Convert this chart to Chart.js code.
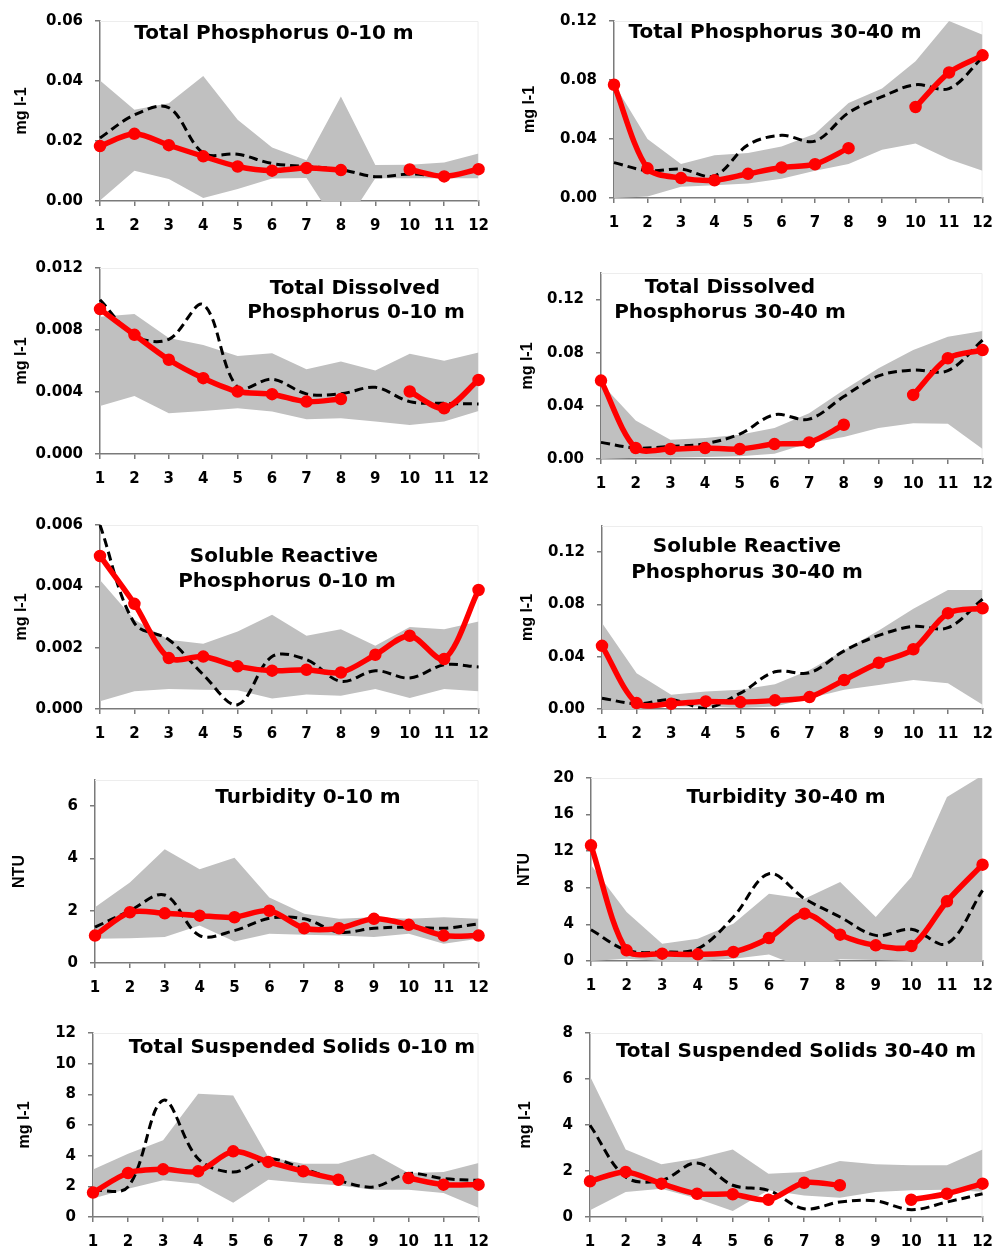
<!DOCTYPE html>
<html>
<head>
<meta charset="utf-8">
<script src="https://cdn.jsdelivr.net/npm/chart.js@4.4.1/dist/chart.umd.min.js"></script>
<style>
html,body{margin:0;padding:0;background:#fff;}
body{width:1004px;height:1252px;position:relative;overflow:hidden;}
canvas{position:absolute;display:block;}
</style>
</head>
<body>
<script>
// ---------- categories ----------
const months = ['1','2','3','4','5','6','7','8','9','10','11','12'];

// ---------- Total Phosphorus 0-10 m ----------
const tp010Title = ['Total Phosphorus 0-10 m'];
const tp010Ticks = [0, 0.02, 0.04, 0.06];
const tp010Red  = [0.0183,0.0224,0.0186,0.0149,0.0115,0.0101,0.0110,0.0103,null,0.0105,0.0082,0.0106];
const tp010Dash = [0.0210,0.0287,0.0311,0.0160,0.0156,0.0125,0.0115,0.0105,0.0081,0.0090,0.0085,0.0105];
const tp010Hi   = [0.0402,0.0304,0.0326,0.0417,0.0271,0.0178,0.0136,0.0348,0.0120,0.0121,0.0128,0.0158];
const tp010Lo   = [0.0002,0.0101,0.0073,0.0010,0.0040,0.0075,0.0077,-0.0100,0.0076,0.0076,0.0076,0.0076];

// ---------- Total Phosphorus 30-40 m ----------
const tp3040Title = ['Total Phosphorus 30-40 m'];
const tp3040Ticks = [0, 0.04, 0.08, 0.12];
const tp3040Red  = [0.0768,0.0201,0.0135,0.0120,0.0164,0.0207,0.0229,0.0338,null,0.0617,0.0851,0.0967];
const tp3040Dash = [0.0240,0.0185,0.0196,0.0150,0.0360,0.0425,0.0386,0.0578,0.0687,0.0768,0.0742,0.0953];
const tp3040Hi   = [0.0775,0.0400,0.0230,0.0290,0.0305,0.0350,0.0436,0.0644,0.0742,0.0927,0.1200,0.1106];
const tp3040Lo   = [0.0000,0.0010,0.0076,0.0087,0.0098,0.0130,0.0185,0.0230,0.0327,0.0370,0.0262,0.0185];

// ---------- Total Dissolved Phosphorus 0-10 m ----------
const tdp010Title = ['Total Dissolved', 'Phosphorus 0-10 m'];
const tdp010Ticks = [0, 0.004, 0.008, 0.012];
const tdp010Red  = [0.00935,0.00769,0.00608,0.00489,0.00403,0.00386,0.00338,0.00355,null,0.00403,0.00295,0.00478];
const tdp010Dash = [0.00995,0.00763,0.00740,0.00963,0.00430,0.00483,0.00388,0.00388,0.00430,0.00338,0.00327,0.00323];
const tdp010Hi   = [0.00885,0.00903,0.00748,0.00704,0.00633,0.00650,0.00547,0.00597,0.00539,0.00646,0.00601,0.00655];
const tdp010Lo   = [0.00310,0.00375,0.00263,0.00278,0.00295,0.00274,0.00224,0.00230,0.00209,0.00187,0.00209,0.00278];

// ---------- Total Dissolved Phosphorus 30-40 m ----------
const tdp3040Title = ['Total Dissolved', 'Phosphorus 30-40 m'];
const tdp3040Ticks = [0, 0.04, 0.08, 0.12];
const tdp3040Red  = [0.0590,0.00825,0.0075,0.00825,0.0075,0.01125,0.0125,0.02575,null,0.04825,0.0758,0.0820];
const tdp3040Dash = [0.0125,0.0083,0.0095,0.0115,0.0188,0.0333,0.0300,0.0470,0.0625,0.0670,0.0665,0.0895];
const tdp3040Hi   = [0.0570,0.0290,0.0145,0.0158,0.0183,0.0233,0.0345,0.0520,0.0683,0.0820,0.0920,0.0963];
const tdp3040Lo   = [0.0000,0.0010,0.0010,0.0015,0.0020,0.0040,0.0120,0.0165,0.0233,0.0270,0.0265,0.0075];

// ---------- Soluble Reactive Phosphorus 0-10 m ----------
const srp010Title = ['Soluble Reactive', 'Phosphorus 0-10 m'];
const srp010Ticks = [0, 0.002, 0.004, 0.006];
const srp010Red  = [0.00499,0.00343,0.00166,0.00171,0.00139,0.00125,0.00128,0.00119,0.00177,0.00239,0.00163,0.00388];
const srp010Dash = [0.00600,0.00280,0.00226,0.00112,0.00014,0.00171,0.00161,0.00090,0.00125,0.00101,0.00144,0.00137];
const srp010Hi   = [0.00421,0.00291,0.00226,0.00213,0.00253,0.00307,0.00239,0.00260,0.00206,0.00267,0.00260,0.00285];
const srp010Lo   = [0.00025,0.00058,0.00065,0.00063,0.00061,0.00034,0.00047,0.00043,0.00065,0.00036,0.00065,0.00058];

// ---------- Soluble Reactive Phosphorus 30-40 m ----------
const srp3040Title = ['Soluble Reactive', 'Phosphorus 30-40 m'];
const srp3040Ticks = [0, 0.04, 0.08, 0.12];
const srp3040Red  = [0.0483,0.0045,0.0040,0.0058,0.0053,0.0066,0.0091,0.0222,0.0354,0.0457,0.0733,0.0771];
const srp3040Dash = [0.0083,0.0040,0.0071,0.0008,0.0121,0.0285,0.0278,0.0445,0.0563,0.0632,0.0622,0.0841];
const srp3040Hi   = [0.0657,0.0273,0.0109,0.0134,0.0147,0.0190,0.0298,0.0450,0.0601,0.0766,0.0910,0.0910];
const srp3040Lo   = [0.0000,0.0000,0.0020,0.0020,0.0008,0.0020,0.0083,0.0147,0.0184,0.0222,0.0197,0.0033];

// ---------- Turbidity 0-10 m ----------
const turb010Title = ['Turbidity 0-10 m'];
const turb010Ticks = [0, 2, 4, 6];
const turb010Red  = [1.05,1.94,1.90,1.81,1.75,2.00,1.33,1.33,1.69,1.46,1.05,1.05];
const turb010Dash = [1.37,2.00,2.60,1.05,1.24,1.71,1.69,1.18,1.33,1.37,1.33,1.50];
const turb010Hi   = [2.13,3.08,4.35,3.59,4.03,2.51,1.88,1.69,1.75,1.69,1.75,1.69];
const turb010Lo   = [0.93,0.95,0.99,1.43,0.82,1.12,1.08,1.05,0.99,1.12,0.74,0.93];

// ---------- Turbidity 30-40 m ----------
const turb3040Title = ['Turbidity 30-40 m'];
const turb3040Ticks = [0, 4, 8, 12, 16, 20];
const turb3040Red  = [12.64,1.17,0.80,0.73,0.98,2.51,5.17,2.88,1.71,1.64,6.52,10.53];
const turb3040Dash = [3.42,1.17,0.98,1.35,4.81,9.54,6.81,4.81,2.80,3.46,1.89,7.72];
const turb3040Hi   = [10.5,5.36,1.89,2.44,4.08,7.36,6.81,8.63,4.81,9.18,17.92,20.3];
const turb3040Lo   = [0.0,0.25,0.0,0.0,0.25,0.70,-0.8,0.2,0.1,0.0,0.0,0.0];

// ---------- Total Suspended Solids 0-10 m ----------
const tss010Title = ['Total Suspended Solids 0-10 m'];
const tss010Ticks = [0, 2, 4, 6, 8, 10, 12];
const tss010Red  = [1.59,2.87,3.11,2.98,4.28,3.59,2.98,2.43,null,2.54,2.11,2.11];
const tss010Dash = [1.74,1.96,7.61,3.80,2.93,3.80,3.15,2.39,1.96,2.83,2.50,2.39];
const tss010Hi   = [3.09,4.13,5.00,8.04,7.93,3.91,3.48,3.48,4.13,2.87,2.93,3.52];
const tss010Lo   = [1.20,1.85,2.39,2.17,0.93,2.43,2.22,2.07,1.78,1.78,1.57,0.61];

// ---------- Total Suspended Solids 30-40 m ----------
const tss3040Title = ['Total Suspended Solids 30-40 m'];
const tss3040Ticks = [0, 2, 4, 6, 8];
const tss3040Red  = [1.55,1.96,1.45,1.01,0.99,0.75,1.49,1.38,null,0.75,1.01,1.45];
const tss3040Dash = [3.99,1.74,1.59,2.35,1.38,1.16,0.36,0.65,0.70,0.32,0.65,1.01];
const tss3040Hi   = [6.12,2.93,2.29,2.54,2.93,1.88,1.96,2.43,2.29,2.25,2.25,2.93];
const tss3040Lo   = [0.29,1.09,1.23,0.80,0.26,1.16,0.94,0.84,1.09,1.16,1.19,1.10];

// ---------- panel layout (page coordinates) ----------
const panels = [
  {title: tp010Title, yTitle: 'mg l-1', ticks: tp010Ticks, max: 0.06, dec: 2, red: tp010Red, dash: tp010Dash, hi: tp010Hi, lo: tp010Lo,
   box: [0, 0, 500, 245], area: [100, 18, 482, 201], yTitleX: 22, tpos: [[274, 32]]},
  {title: tp3040Title, yTitle: 'mg l-1', ticks: tp3040Ticks, max: 0.12, dec: 2, red: tp3040Red, dash: tp3040Dash, hi: tp3040Hi, lo: tp3040Lo,
   box: [500, 0, 504, 245], area: [614, 15, 990, 198], yTitleX: 530, tpos: [[775, 31]]},
  {title: tdp010Title, yTitle: 'mg l-1', ticks: tdp010Ticks, max: 0.012, dec: 3, red: tdp010Red, dash: tdp010Dash, hi: tdp010Hi, lo: tdp010Lo,
   box: [0, 245, 500, 250], area: [100, 268, 482, 454], yTitleX: 22, tpos: [[355, 287], [356, 311]]},
  {title: tdp3040Title, yTitle: 'mg l-1', ticks: tdp3040Ticks, max: 0.14, dec: 2, red: tdp3040Red, dash: tdp3040Dash, hi: tdp3040Hi, lo: tdp3040Lo,
   box: [500, 245, 504, 250], area: [601, 273, 990, 459], yTitleX: 528, tpos: [[730, 286], [730, 311]]},
  {title: srp010Title, yTitle: 'mg l-1', ticks: srp010Ticks, max: 0.006, dec: 3, red: srp010Red, dash: srp010Dash, hi: srp010Hi, lo: srp010Lo,
   box: [0, 495, 500, 250], area: [100, 525, 482, 709], yTitleX: 22, tpos: [[284, 555], [287, 580]]},
  {title: srp3040Title, yTitle: 'mg l-1', ticks: srp3040Ticks, max: 0.14, dec: 2, red: srp3040Red, dash: srp3040Dash, hi: srp3040Hi, lo: srp3040Lo,
   box: [500, 495, 504, 250], area: [602, 526, 990, 709], yTitleX: 528, tpos: [[747, 545], [747, 571]]},
  {title: turb010Title, yTitle: 'NTU', ticks: turb010Ticks, max: 7, dec: 0, red: turb010Red, dash: turb010Dash, hi: turb010Hi, lo: turb010Lo,
   box: [0, 745, 500, 255], area: [95, 780, 485, 963], yTitleX: 20, tpos: [[308, 796]]},
  {title: turb3040Title, yTitle: 'NTU', ticks: turb3040Ticks, max: 20, dec: 0, red: turb3040Red, dash: turb3040Dash, hi: turb3040Hi, lo: turb3040Lo,
   box: [500, 745, 504, 255], area: [591, 778, 990, 961], yTitleX: 525, tpos: [[786, 796]]},
  {title: tss010Title, yTitle: 'mg l-1', ticks: tss010Ticks, max: 12, dec: 0, red: tss010Red, dash: tss010Dash, hi: tss010Hi, lo: tss010Lo,
   box: [0, 1000, 500, 252], area: [93, 1033, 485, 1217], yTitleX: 25, tpos: [[302, 1046]]},
  {title: tss3040Title, yTitle: 'mg l-1', ticks: tss3040Ticks, max: 8, dec: 0, red: tss3040Red, dash: tss3040Dash, hi: tss3040Hi, lo: tss3040Lo,
   box: [500, 1000, 504, 252], area: [590, 1033, 990, 1217], yTitleX: 526, tpos: [[796, 1050]]}
];

Chart.defaults.font.family = '"DejaVu Sans", sans-serif';
Chart.defaults.color = '#000';

const AXIS = '#7a7a7a';
const tickFont = {family: '"DejaVu Sans", sans-serif', size: 15, weight: 'bold'};
const yTitleFont = {family: '"Liberation Sans", Arial, sans-serif', size: 16, weight: 'bold'};

const panelDecor = {
  id: 'panelDecor',
  beforeDatasetsDraw(chart) {
    const {ctx, chartArea: a} = chart;
    ctx.save();
    ctx.strokeStyle = '#ededed';
    ctx.lineWidth = 1;
    ctx.beginPath();
    ctx.moveTo(a.left, a.top + 0.5);
    ctx.lineTo(a.right - 0.5, a.top + 0.5);
    ctx.lineTo(a.right - 0.5, a.bottom);
    ctx.stroke();
    ctx.restore();
  },
  afterDatasetsDraw(chart, args, opts) {
    const ctx = chart.ctx;
    ctx.save();
    ctx.font = 'bold 20px "DejaVu Sans"';
    ctx.fillStyle = '#000';
    ctx.textAlign = 'center';
    ctx.textBaseline = 'alphabetic';
    opts.lines.forEach((t, i) => {
      const p = opts.pos[i];
      ctx.fillText(t, p[0], p[1] + 7.3);
    });
    ctx.restore();
  }
};

panels.forEach((p, idx) => {
  const [cx, cy, cw, ch] = p.box;
  const [L, T, R, B] = p.area;
  const cv = document.createElement('canvas');
  cv.width = cw; cv.height = ch;
  cv.style.left = cx + 'px'; cv.style.top = cy + 'px';
  cv.style.width = cw + 'px'; cv.style.height = ch + 'px';
  document.body.appendChild(cv);

  const gridOpts = {display: true, drawOnChartArea: false, drawTicks: true, tickLength: 5, color: AXIS, lineWidth: 1.5};
  const borderOpts = {display: true, color: AXIS, width: 1.5};

  new Chart(cv.getContext('2d'), {
    type: 'line',
    data: {
      labels: months,
      datasets: [
        {data: p.red, borderColor: '#FF0000', backgroundColor: '#FF0000', borderWidth: 5.5,
         pointRadius: 5.5, pointBorderWidth: 1.5, pointBackgroundColor: '#FF0000', pointBorderColor: '#FF0000',
         tension: 0.3, spanGaps: false, fill: false, clip: false},
        {data: p.dash, borderColor: '#000', borderWidth: 3, borderDash: [9, 5], pointRadius: 0,
         tension: 0.35, fill: false},
        {data: p.hi, borderWidth: 0, borderColor: 'rgba(0,0,0,0)', backgroundColor: '#C0C0C0', pointRadius: 0,
         tension: 0, fill: '+1'},
        {data: p.lo, borderWidth: 0, borderColor: 'rgba(0,0,0,0)', pointRadius: 0, tension: 0, fill: false}
      ]
    },
    options: {
      responsive: false,
      animation: false,
      devicePixelRatio: 1,
      layout: {padding: {left: 0, top: T - cy, right: cx + cw - R, bottom: 0}},
      plugins: {
        legend: {display: false},
        tooltip: {enabled: false},
        panelDecor: {lines: p.title, pos: p.tpos.map(q => [q[0] - cx, q[1] - cy])}
      },
      scales: {
        x: {
          type: 'category',
          offset: false,
          grid: gridOpts,
          border: borderOpts,
          ticks: {font: tickFont, color: '#000', padding: 11, autoSkip: false, maxRotation: 0},
          afterFit: s => { s.height = cy + ch - B; }
        },
        y: {
          type: 'linear',
          min: 0,
          max: p.max,
          grid: gridOpts,
          border: borderOpts,
          afterBuildTicks: s => { s.ticks = p.ticks.map(v => ({value: v})); },
          ticks: {font: tickFont, color: '#000', padding: 12,
                  callback: v => Number(v).toFixed(p.dec)},
          title: {display: true, text: p.yTitle, font: yTitleFont, color: '#000',
                  padding: {top: p.yTitleX - cx - 9.6, bottom: 0}},
          afterFit: s => { s.width = L - cx; }
        }
      }
    },
    plugins: [panelDecor]
  });
});
</script>
</body>
</html>
